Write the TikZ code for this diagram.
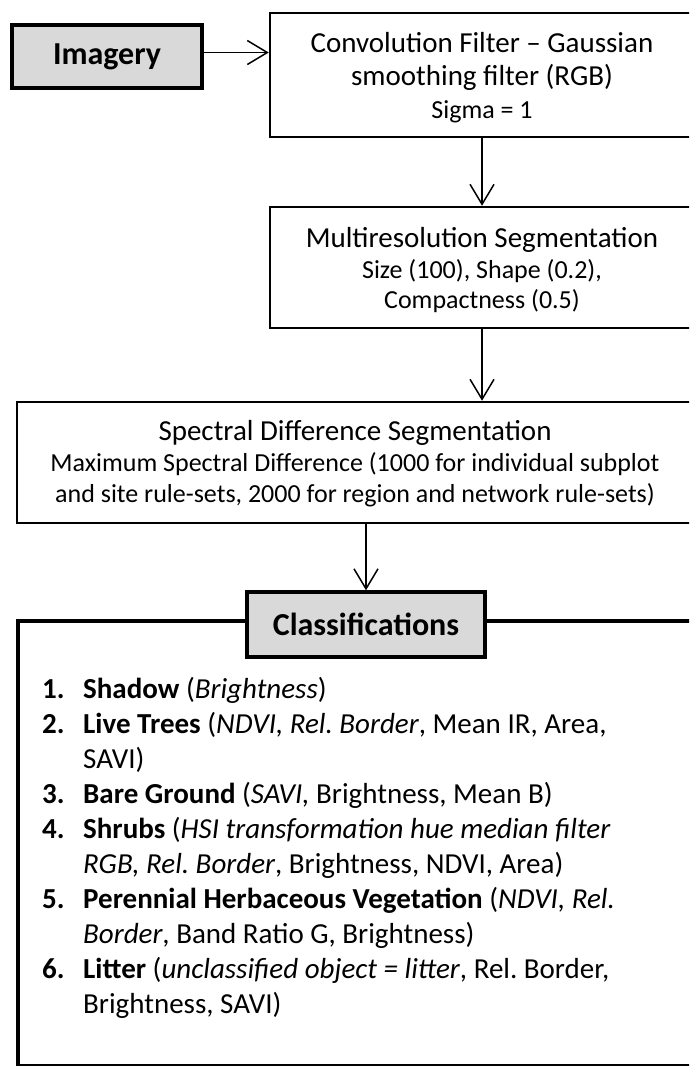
\documentclass[tikz,border=0pt]{standalone}
\usepackage{fontspec}
\setmainfont{Carlito}
\usetikzlibrary{arrows.meta}
\definecolor{boxgray}{HTML}{D9D9D9}
\frenchspacing
\begin{document}
\begin{tikzpicture}[x=1pt,y=-1pt,
  hdr/.style={draw=black, line width=3.5pt, fill=boxgray, font=\fontsize{32}{38}\selectfont\bfseries, inner sep=0pt},
  stepbox/.style={draw=black, line width=2.5pt, fill=white, inner sep=0pt},
  bigbox/.style={draw=black, line width=3.5pt, fill=white, inner sep=0pt},
  flow/.style={line width=1.5pt, -{Straight Barb[length=20pt,width=24pt,line width=1.5pt]}},
  ttl/.style={anchor=base, font=\fontsize{29}{33}\selectfont, inner sep=0pt},
  sub/.style={anchor=base, font=\fontsize{26}{30}\selectfont, inner sep=0pt},
  num/.style={anchor=base west, font=\fontsize{29}{35}\selectfont\bfseries, inner sep=0pt},
  itm/.style={anchor=base west, font=\fontsize{29}{35}\selectfont, inner sep=0pt}]

\useasboundingbox (0,0) rectangle (689,1066);
\clip (0,0) rectangle (689,1066);
\fill[white] (0,0) rectangle (689,1066);

% Imagery
\node[hdr, minimum width=190pt, minimum height=63pt] (img) at (107,56.5) {Imagery};

% Convolution filter box
\node[stepbox, minimum width=424pt, minimum height=124pt] (conv) at (482,75) {};
\node[ttl] (convA) at (482,52) {Convolution Filter – Gaussian};
\node[ttl] (convB) at (482,85) {smoothing filter (RGB)};
\node[sub] (convC) at (482,118) {Sigma = 1};

% Multiresolution box
\node[stepbox, minimum width=424pt, minimum height=121pt] (mr) at (482,267.5) {};
\node[ttl] (mrA) at (482,247) {Multiresolution Segmentation};
\node[sub] (mrB) at (482,278) {Size (100), Shape (0.2),};
\node[sub] (mrC) at (482,308) {Compactness (0.5)};

% Spectral difference box
\node[stepbox, minimum width=676pt, minimum height=121pt] (sp) at (355,462.5) {};
\node[ttl] (spA) at (355,440) {Spectral Difference Segmentation};
\node[sub] (spB) at (355,471) {Maximum Spectral Difference (1000 for individual subplot};
\node[sub] (spC) at (355,502) {and site rule-sets, 2000 for region and network rule-sets)};

% Classifications
\node[bigbox, minimum width=696pt, minimum height=445pt] (main) at (366,843.5) {};
\node[hdr, minimum width=238pt, minimum height=65pt] (cls) at (366,624.5) {Classifications};

% connectors
\draw[flow] ([yshift=4pt]img.east) -- ([yshift=4pt]img.east -| conv.west);
\draw[flow] (conv.south) -- (mr.north);
\draw[flow] (mr.south) -- (mr.south |- sp.north);
\draw[flow] (cls.north |- sp.south) -- (cls.north);

% list
\node[num] (n1) at (42,698) {1.};
\node[itm] (t1) at (83,698) {\textbf{Shadow} (\textit{Brightness})};
\node[num] (n2) at (42,733) {2.};
\node[itm] (t2) at (83,733) {\textbf{Live Trees} (\textit{NDVI, Rel. Border}, Mean IR, Area,};
\node[itm] (t2b) at (83,768) {SAVI)};
\node[num] (n3) at (42,803) {3.};
\node[itm] (t3) at (83,803) {\textbf{Bare Ground} (\textit{SAVI,} Brightness, Mean B)};
\node[num] (n4) at (42,838) {4.};
\node[itm] (t4) at (83,838) {\textbf{Shrubs} (\textit{HSI transformation hue median filter}};
\node[itm] (t4b) at (83,873) {\textit{RGB, Rel. Border}, Brightness, NDVI, Area)};
\node[num] (n5) at (42,908) {5.};
\node[itm] (t5) at (83,908) {\textbf{Perennial Herbaceous Vegetation} (\textit{NDVI, Rel.}};
\node[itm] (t5b) at (83,943) {\textit{Border}, Band Ratio G, Brightness)};
\node[num] (n6) at (42,978) {6.};
\node[itm] (t6) at (83,978) {\textbf{Litter} (\textit{unclassified object = litter}, Rel. Border,};
\node[itm] (t6b) at (83,1013) {Brightness, SAVI)};
\end{tikzpicture}
\end{document}
